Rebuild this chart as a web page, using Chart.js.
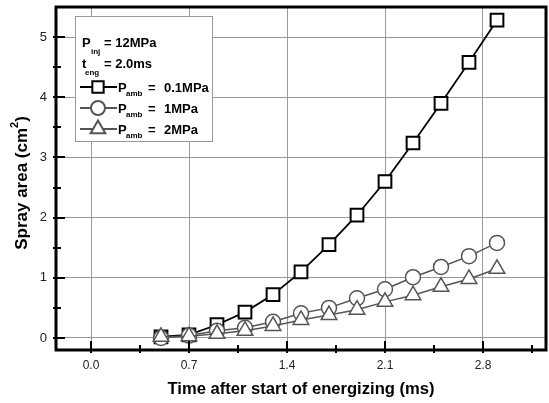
<!DOCTYPE html>
<html><head><meta charset="utf-8">
<script src="https://cdn.jsdelivr.net/npm/chart.js@4"></script>
<style>html,body{margin:0;background:#fff}</style>
</head><body>
<canvas id="c" width="549" height="403"></canvas>
<script>
// ---------- data ----------
const times = [0.5, 0.7, 0.9, 1.1, 1.3, 1.5, 1.7, 1.9, 2.1, 2.3, 2.5, 2.7, 2.9];
const amb01 = [0.02, 0.05, 0.22, 0.43, 0.72, 1.10, 1.55, 2.04, 2.60, 3.24, 3.90, 4.58, 5.28];
const amb1  = [0.00, 0.04, 0.12, 0.17, 0.27, 0.41, 0.50, 0.66, 0.81, 1.01, 1.18, 1.36, 1.58];
const amb2  = [0.02, 0.03, 0.07, 0.12, 0.20, 0.30, 0.38, 0.47, 0.60, 0.71, 0.85, 0.98, 1.15];
const xTicks = [0.0, 0.7, 1.4, 2.1, 2.8];
const yTicks = [0, 1, 2, 3, 4, 5];
const legendRows = [
  {style:'rect', color:'#000', r:8, bw:2, val:'0.1MPa'},
  {style:'circle', color:'#555', r:7, bw:1.5, val:'1MPa'},
  {style:'triangle', color:'#555', r:8.5, bw:1.5, val:'2MPa'}
];

const pts = ys => times.map((t,i)=>({x:t, y:ys[i]}));
const FONT = 'Arial, "Liberation Sans", sans-serif';

// frame, inward ticks, tick labels and axis titles
const frame = {
  id:'frame',
  afterDraw(chart){
    const {ctx, chartArea:a, scales:{x, y}} = chart;
    ctx.save();
    ctx.strokeStyle = '#000';
    ctx.lineWidth = 2;
    ctx.beginPath();
    for (let v = 0; v <= 5.01; v += 0.5) {
      const py = Math.round(y.getPixelForValue(v));
      const len = (Math.abs(v % 1) < 1e-6) ? 9 : 5;
      ctx.moveTo(a.left - 3, py); ctx.lineTo(a.left + len, py);
    }
    for (let v = 0; v <= 3.2; v += 0.35) {
      const px = Math.round(x.getPixelForValue(v));
      const major = Math.abs((v / 0.7) - Math.round(v / 0.7)) < 1e-6;
      ctx.moveTo(px, a.bottom + 3); ctx.lineTo(px, a.bottom - (major ? 9 : 5));
    }
    ctx.stroke();
    ctx.lineWidth = 3;
    ctx.strokeRect(a.left, a.top, a.right - a.left, a.bottom - a.top);

    ctx.fillStyle = '#222';
    ctx.font = '12px ' + FONT;
    ctx.textAlign = 'center'; ctx.textBaseline = 'middle';
    xTicks.forEach(v => ctx.fillText(v.toFixed(1), x.getPixelForValue(v), 366));
    ctx.font = '13px ' + FONT;
    ctx.textAlign = 'right';
    yTicks.forEach(v => ctx.fillText(String(v), 47, y.getPixelForValue(v)));

    ctx.fillStyle = '#000';
    ctx.font = 'bold 16.6px ' + FONT;
    ctx.textAlign = 'center';
    ctx.fillText('Time after start of energizing (ms)', (a.left + a.right) / 2, 389);

    ctx.translate(22, 183); ctx.rotate(-Math.PI / 2);
    ctx.textAlign = 'left';
    const big = 'bold 17px ' + FONT, sup = 'bold 11px ' + FONT;
    ctx.font = big;
    const t1 = 'Spray area (cm', t2 = ')';
    const w1 = ctx.measureText(t1).width, w2 = ctx.measureText(t2).width;
    ctx.font = sup;
    const ws = ctx.measureText('2').width;
    const x0 = -(w1 + ws + w2) / 2;
    ctx.font = big; ctx.fillText(t1, x0, 0);
    ctx.font = sup; ctx.fillText('2', x0 + w1, -7);
    ctx.font = big; ctx.fillText(t2, x0 + w1 + ws, 0);
    ctx.restore();
  }
};

const legendBox = {
  id:'legendBox',
  afterDatasetsDraw(chart){
    const ctx = chart.ctx;
    ctx.save();
    ctx.fillStyle = '#fff'; ctx.fillRect(75, 16, 137, 125);
    ctx.strokeStyle = '#999'; ctx.lineWidth = 1; ctx.strokeRect(75.5, 16.5, 137, 125);
    ctx.fillStyle = '#000'; ctx.textBaseline = 'alphabetic'; ctx.textAlign = 'left';
    const big = 'bold 13px ' + FONT, small = 'bold 8px ' + FONT;
    ctx.font = big; ctx.fillText('P', 82, 47);
    ctx.font = small; ctx.fillText('inj', 91, 54);
    ctx.font = big; ctx.fillText('= 12MPa', 104, 47);
    ctx.font = big; ctx.fillText('t', 82, 68);
    ctx.font = small; ctx.fillText('eng', 85, 75);
    ctx.font = big; ctx.fillText('= 2.0ms', 104, 68);
    legendRows.forEach((r, i) => {
      const cy = 87 + i * 21;
      ctx.strokeStyle = r.color; ctx.lineWidth = 2;
      ctx.beginPath(); ctx.moveTo(80, cy); ctx.lineTo(117, cy); ctx.stroke();
      ctx.fillStyle = '#fff';
      Chart.helpers.drawPoint(ctx, {pointStyle:r.style, radius:r.r, borderWidth:r.bw, rotation:0}, 98, cy);
      ctx.fillStyle = '#000';
      ctx.font = big; ctx.fillText('P', 118, cy + 5);
      ctx.font = small; ctx.fillText('amb', 126, cy + 9);
      ctx.font = big; ctx.fillText('=', 148, cy + 5);
      ctx.fillText(r.val, 164, cy + 5);
    });
    ctx.restore();
  }
};

const ds = (ys, style, color, r, bw, lw, order) => ({
  data: pts(ys), borderColor: color, borderWidth: lw, pointStyle: style,
  pointRadius: r, pointHoverRadius: r, pointBorderWidth: bw, order,
  pointBorderColor: color, pointBackgroundColor: '#fff', tension: 0
});

new Chart(document.getElementById('c'), {
  type: 'line',
  data: { datasets: [
    ds(amb01, 'rect', '#000', 9, 2, 1.8, 2),
    ds(amb1, 'circle', '#555', 7.5, 1.5, 1.5, 1),
    ds(amb2, 'triangle', '#555', 9, 1.5, 1.5, 0)
  ]},
  options: {
    responsive: false, animation: false,
    layout: { autoPadding: false, padding: { left: 0, right: 3, top: 7, bottom: 0 } },
    plugins: { legend: { display: false }, tooltip: { enabled: false } },
    scales: {
      x: {
        type: 'linear', min: -0.25, max: 3.25,
        afterBuildTicks: s => { s.ticks = xTicks.map(v => ({ value: v })); },
        afterFit: s => { s.height = 53; },
        grid: { color: '#999', lineWidth: 1, drawTicks: false },
        border: { display: false },
        ticks: { display: false }
      },
      y: {
        min: -0.2, max: 5.5,
        afterBuildTicks: s => { s.ticks = yTicks.map(v => ({ value: v })); },
        afterFit: s => { s.width = 56; },
        grid: { color: '#999', lineWidth: 1, drawTicks: false },
        border: { display: false },
        ticks: { display: false }
      }
    }
  },
  plugins: [frame, legendBox]
});
</script>
</body></html>
